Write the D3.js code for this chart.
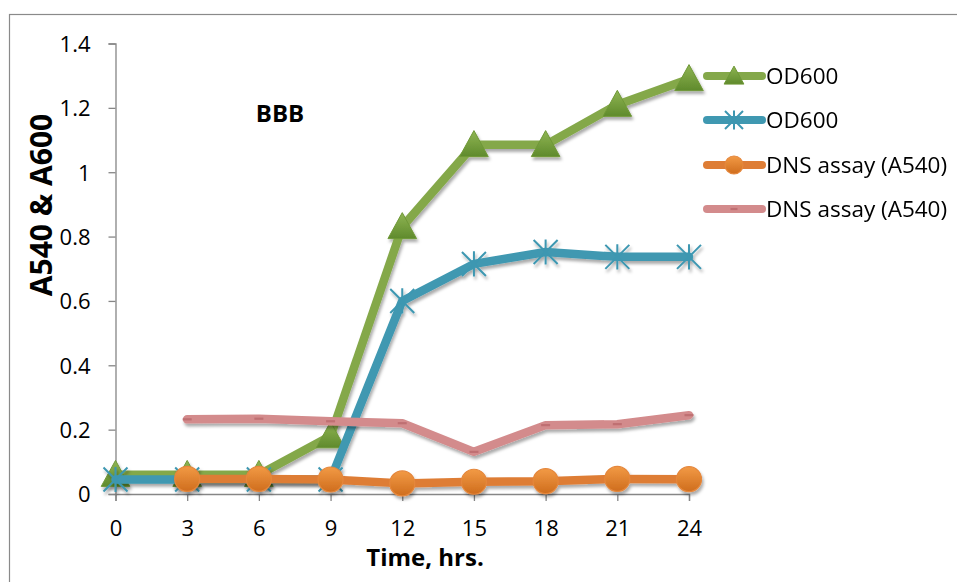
<!DOCTYPE html>
<html>
<head>
<meta charset="utf-8">
<script src="https://cdn.jsdelivr.net/npm/d3@7"></script>
<style>
  html, body { margin: 0; padding: 0; background: #fff; }
  svg { display: block; font-family: "Open Sans", Lato, sans-serif; }
</style>
</head>
<body>
<svg id="chart" width="957" height="582"></svg>
<script>
// Sampling times (hours) and measured absorbances
const hours = [0, 3, 6, 9, 12, 15, 18, 21, 24];
const od600Green = [0.06, 0.06, 0.06, 0.18, 0.83, 1.085, 1.085, 1.21, 1.29];
const od600Blue = [0.045, 0.045, 0.045, 0.045, 0.60, 0.715, 0.752, 0.737, 0.737];
const dnsOrange = [null, 0.047, 0.047, 0.045, 0.033, 0.038, 0.04, 0.047, 0.046];
const dnsPink = [null, 0.232, 0.234, 0.226, 0.22, 0.131, 0.214, 0.217, 0.245];
const yTicks = [0, 0.2, 0.4, 0.6, 0.8, 1, 1.2, 1.4];
const xTicks = hours;
const seriesNames = ["OD600", "OD600", "DNS assay (A540)", "DNS assay (A540)"];

const svg = d3.select("#chart");
const x = d3.scaleLinear().domain([0, 24]).range([115.5, 689]);
const y = d3.scaleLinear().domain([0, 1.4]).range([494, 43.5]);

const defs = svg.append("defs");
const shadow = defs.append("filter").attr("id", "shadow")
  .attr("x", "-20%").attr("y", "-20%").attr("width", "140%").attr("height", "160%");
shadow.append("feDropShadow").attr("dx", 1.5).attr("dy", 3).attr("stdDeviation", 1.8)
  .attr("flood-color", "#000").attr("flood-opacity", 0.33);

function vGrad(id, top, bottom) {
  const g = defs.append("linearGradient").attr("id", id)
    .attr("x1", 0).attr("y1", 0).attr("x2", 0).attr("y2", 1);
  g.append("stop").attr("offset", "0%").attr("stop-color", top);
  g.append("stop").attr("offset", "100%").attr("stop-color", bottom);
}
vGrad("gGreen", "#8fb553", "#5f8a2c");
vGrad("gOrange", "#f29a45", "#cf6d1d");

// chart frame
svg.append("rect").attr("x", 9.5).attr("y", 14.5).attr("width", 1000).attr("height", 1000)
  .attr("fill", "none").attr("stroke", "#8a8a8a").attr("stroke-width", 1.2);

// axes
const axisColor = "#868686";
const yAxis = svg.append("g").attr("transform", `translate(${x(0)},0)`)
  .call(d3.axisLeft(y).tickValues(yTicks).tickSize(7).tickPadding(18)
    .tickFormat(d => String(+d.toFixed(1))));
const xAxis = svg.append("g").attr("transform", `translate(0,${y(0)})`)
  .call(d3.axisBottom(x).tickValues(xTicks).tickSize(7).tickPadding(20)
    .tickFormat(d => String(d)));
[yAxis, xAxis].forEach(a => {
  a.select(".domain").attr("stroke", axisColor).attr("stroke-width", 1.3);
  a.selectAll(".tick line").attr("stroke", axisColor).attr("stroke-width", 1.3);
  a.selectAll(".tick text").attr("fill", "#000").style("font-size", "22px")
    .style("font-family", "'Open Sans', sans-serif");
});
yAxis.selectAll(".tick text").attr("dy", "0.36em");
xAxis.selectAll(".tick text").attr("dy", "0.70em");

// axis titles
svg.append("text").attr("transform", "translate(52,205) rotate(-90)")
  .attr("text-anchor", "middle").style("font-size", "30px").style("font-weight", "bold")
  .text("A540 & A600");
svg.append("text").attr("x", 425).attr("y", 566).attr("text-anchor", "middle")
  .style("font-size", "24px").style("font-weight", "bold").text("Time, hrs.");
svg.append("text").attr("x", 280).attr("y", 122).attr("text-anchor", "middle")
  .style("font-size", "24px").style("font-weight", "bold").text("BBB");

// marker drawers
const triPath = s => `M0,${-s * 0.55}L${s * 0.55},${s * 0.45}L${-s * 0.55},${s * 0.45}Z`;
function drawTriangle(g, cx, cy, s) {
  g.append("path").attr("transform", `translate(${cx},${cy})`).attr("d", triPath(s))
    .attr("fill", "url(#gGreen)").attr("stroke", "#6f9837").attr("stroke-width", 1);
}
function drawStar(g, cx, cy, s) {
  const r = s / 2;
  const p = `M${-r},${-r}L${r},${r}M${-r},${r}L${r},${-r}M0,${-r * 1.05}L0,${r * 1.05}`;
  g.append("path").attr("transform", `translate(${cx},${cy})`).attr("d", p)
    .attr("stroke", "#3d97b1").attr("stroke-width", 2).attr("fill", "none");
}
function drawCircle(g, cx, cy, s) {
  g.append("circle").attr("cx", cx).attr("cy", cy).attr("r", s / 2)
    .attr("fill", "url(#gOrange)").attr("stroke", "#e5873c").attr("stroke-width", 1.2);
}
function drawDash(g, cx, cy, s) {
  g.append("line").attr("x1", cx - s / 2).attr("x2", cx + s / 2).attr("y1", cy).attr("y2", cy)
    .attr("stroke", "#bf6f72").attr("stroke-width", 2.2);
}

const series = [
  { name: seriesNames[0], values: od600Green, color: "#84a84a", marker: drawTriangle, size: 26 },
  { name: seriesNames[1], values: od600Blue, color: "#3f98b1", marker: drawStar, size: 24 },
  { name: seriesNames[2], values: dnsOrange, color: "#de7d35", marker: drawCircle, size: 25 },
  { name: seriesNames[3], values: dnsPink, color: "#d38b8c", marker: drawDash, size: 9 }
];

const line = d3.line().defined(d => d.v !== null).x(d => x(d.h)).y(d => y(d.v));

series.forEach(s => {
  const pts = hours.map((h, i) => ({ h, v: s.values[i] }));
  const g = svg.append("g").attr("filter", "url(#shadow)");
  g.append("path").datum(pts).attr("d", line).attr("fill", "none")
    .attr("stroke", s.color).attr("stroke-width", 8.5)
    .attr("stroke-linejoin", "round").attr("stroke-linecap", "round");
  pts.filter(d => d.v !== null).forEach(d => s.marker(g, x(d.h), y(d.v), s.size));
});

// legend
const legendY = [76, 120, 165, 209];
series.forEach((s, i) => {
  const g = svg.append("g");
  const ly = legendY[i];
  g.append("line").attr("x1", 707).attr("x2", 762).attr("y1", ly).attr("y2", ly)
    .attr("stroke", s.color).attr("stroke-width", 8).attr("stroke-linecap", "round");
  s.marker(g, 734, ly, s.size === 9 ? 7 : 18);
  g.append("text").attr("x", 766).attr("y", ly).attr("dy", "0.36em")
    .style("font-size", "22.5px").text(s.name);
});
</script>
</body>
</html>
